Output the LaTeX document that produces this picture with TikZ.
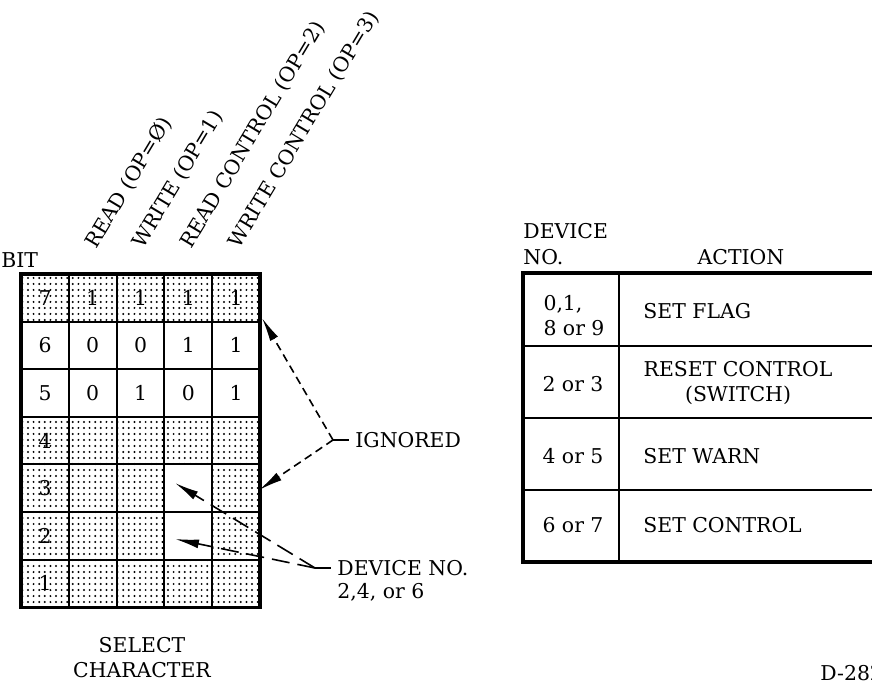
\documentclass[tikz,border=0pt]{standalone}
\usepackage{fontspec}
\setmainfont{DejaVu Serif}
\usepackage{tikz}
\usetikzlibrary{arrows.meta,patterns}
\pgfdeclarepatternformonly{stipple}{\pgfqpoint{-0.7pt}{-0.7pt}}{\pgfqpoint{0.7pt}{0.7pt}}{\pgfqpoint{2.8pt}{3pt}}{\pgfpathcircle{\pgfqpoint{0pt}{0pt}}{0.55pt}\pgfusepath{fill}}

\begin{document}
\begin{tikzpicture}[x=0.5pt,y=-0.5pt,
  txt/.style={font=\fontsize{10.2}{12.5}\selectfont,inner sep=0pt},
  hdr/.style={txt,anchor=base west,rotate=59},
  lbl/.style={txt,anchor=west,inner sep=3pt},
  dotted cell/.style={pattern=stipple},
  gridline/.style={line width=1pt},
  frame/.style={line width=1.6pt},
  ign/.style={-{Latex[length=12pt,width=4.5pt]},line width=0.8pt,dash pattern=on 4pt off 2.5pt},
  devptr/.style={-{Latex[length=12pt,width=4.5pt]},line width=0.8pt,dash pattern=on 9pt off 4pt}]
\useasboundingbox (0,0) rectangle (872,680);
\clip (0,0) rectangle (872,680);

% stippled rows of the select character
\fill[dotted cell] (21,274) rectangle (260,321.6);
\fill[dotted cell] (21,416.8) rectangle (260,464.4);
\fill[dotted cell] (21,464.4) rectangle (164.4,559.6);
\fill[dotted cell] (212.2,464.4) rectangle (260,559.6);
\fill[dotted cell] (21,559.6) rectangle (260,607.2);

% grid
\foreach \x in {68.8,116.6,164.4,212.2}
  \draw[gridline] (\x,274) -- (\x,607.2);
\foreach \y in {321.6,369.2,416.8,464.4,512,559.6}
  \draw[gridline] (21,\y) -- (260,\y);
\draw[frame] (21,274) rectangle (260,607.2);

\node[txt,anchor=west] (bit) at (1,260) {BIT};

% bit numbers
\foreach \b/\y in {7/297.8,6/345.4,5/393,4/440.6,3/488.2,2/535.8,1/583.4}
  \node[txt] (b\b) at (45,\y) {\b};

% op codes in bits 7, 6, 5
\foreach \v [count=\i] in {1,1,1,1} \node[txt] (r7c\i) at (44.9+\i*47.8,297.8) {\v};
\foreach \v [count=\i] in {0,0,1,1} \node[txt] (r6c\i) at (44.9+\i*47.8,345.4) {\v};
\foreach \v [count=\i] in {0,1,0,1} \node[txt] (r5c\i) at (44.9+\i*47.8,393) {\v};

% column headings
\node[hdr] (op0) at (96,250) {READ (OP=Ø)};
\node[hdr] (op1) at (143,250) {WRITE (OP=1)};
\node[hdr] (op2) at (191,250) {READ CONTROL (OP=2)};
\node[hdr] (op3) at (239,250) {WRITE CONTROL (OP=3)};

\node[txt,align=center] (sel) at (142,658) {SELECT\\CHARACTER};

% pointers
\coordinate (ignj) at (333,440);
\coordinate (ign7) at (262,318);
\coordinate (ign3) at (259,490);
\node[lbl] (ignlbl) at (349,440) {IGNORED};
\draw[ign] (ignj) -- (ign7);
\draw[ign] (ignj) -- (ign3);
\draw[line width=0.8pt] (ignj) -- (ignlbl.west);

\coordinate (devj) at (315,568);
\coordinate (dev3) at (175,483);
\coordinate (dev2) at (175,539);
\node[lbl] (devlbl) at (331,568) {DEVICE NO.};
\node[txt,anchor=west] (devnum) at (337,592) {2,4, or 6};
\draw[devptr] (devj) -- (dev3);
\draw[devptr] (devj) -- (dev2);
\draw[line width=0.8pt] (devj) -- (devlbl.west);

% device table
\node[txt,anchor=west] (devhd) at (523,231) {DEVICE};
\node[txt,anchor=west] (nohd) at (523,257) {NO.};
\node[txt] (acthd) at (741,257) {ACTION};
\foreach \y in {346,418,490}
  \draw[gridline] (523,\y) -- (880,\y);
\draw[gridline] (619,273) -- (619,562);
\draw[frame] (880,273) -- (523,273) -- (523,562) -- (880,562);

\node[txt,align=left] (d01) at (574,316) {0,1,\\8 or 9};
\node[txt] (d23) at (573,384) {2 or 3};
\node[txt] (d45) at (573,456) {4 or 5};
\node[txt] (d67) at (573,525) {6 or 7};
\node[txt,anchor=west] (a01) at (643,311) {SET FLAG};
\node[txt,align=center] (a23) at (738,383) {RESET CONTROL\\(SWITCH)};
\node[txt,anchor=west] (a45) at (643,456) {SET WARN};
\node[txt,anchor=west] (a67) at (643,525) {SET CONTROL};

\node[txt,anchor=west] (fig) at (820,673) {D-282};
\end{tikzpicture}
\end{document}
